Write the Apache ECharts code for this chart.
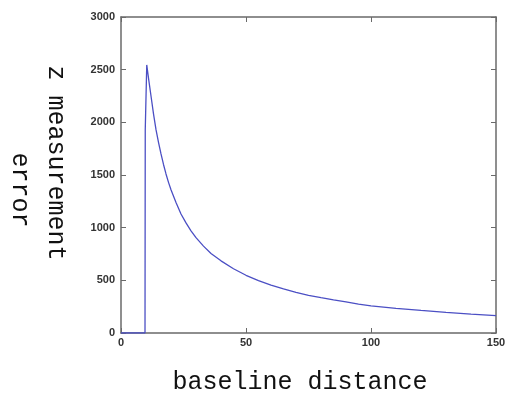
<!DOCTYPE html>
<html><head><meta charset="utf-8">
<script src="https://cdn.jsdelivr.net/npm/echarts@6/dist/echarts.min.js"></script>
<style>html,body{margin:0;padding:0;background:#fff}#c{width:532px;height:398px}</style>
</head><body><div id="c"></div>
<script>
var baseline = [0, 9.6, 9.7, 10.3, 11, 12, 13, 14, 15, 16, 17, 18, 19, 20, 22, 24, 26, 28, 30, 33, 36, 40, 45, 50, 55, 60, 65, 70, 75, 80, 85, 90, 95, 100, 110, 120, 130, 140, 150];
var zError   = [0, 0, 1930, 2545, 2420, 2250, 2080, 1930, 1810, 1700, 1600, 1510, 1430, 1360, 1240, 1130, 1045, 970, 905, 825, 755, 685, 610, 548, 498, 455, 418, 386, 358, 335, 314, 295, 275, 258, 234, 214, 196, 179, 164];
var xTicks = [0, 50, 100, 150];
var yTicks = [0, 500, 1000, 1500, 2000, 2500, 3000];
var xLabel = 'baseline distance';
var yLabel1 = 'z measurement';
var yLabel2 = 'error';

var pts = baseline.map(function(b, i){ return [b, zError[i]]; });
var axisColor = '#6a6a6a';
var labelStyle = {color:'#333', fontSize:11, fontWeight:'bold', fontFamily:'Liberation Sans', formatter:function(v){return String(v);}};
var chart = echarts.init(document.getElementById('c'));
chart.setOption({
  animation:false,
  grid:{left:121, right:36, top:17, bottom:65},
  xAxis:[{
    type:'value', min:xTicks[0], max:xTicks[xTicks.length-1], interval:50,
    axisLine:{onZero:false, lineStyle:{color:axisColor, width:1.5}},
    axisTick:{inside:true, length:5, lineStyle:{color:axisColor}},
    axisLabel:Object.assign({margin:4}, labelStyle),
    splitLine:{show:false}
  },{
    type:'value', position:'top', min:xTicks[0], max:xTicks[xTicks.length-1], interval:50,
    axisLine:{show:true, onZero:false, lineStyle:{color:axisColor, width:1.5}},
    axisTick:{inside:true, length:5, lineStyle:{color:axisColor}},
    axisLabel:{show:false}, splitLine:{show:false}
  }],
  yAxis:[{
    type:'value', min:yTicks[0], max:yTicks[yTicks.length-1], interval:500,
    axisLine:{show:true, onZero:false, lineStyle:{color:axisColor, width:1.5}},
    axisTick:{show:true, inside:true, length:5, lineStyle:{color:axisColor}},
    axisLabel:Object.assign({margin:6}, labelStyle),
    splitLine:{show:false}
  },{
    type:'value', position:'right', min:yTicks[0], max:yTicks[yTicks.length-1], interval:500,
    axisLine:{show:true, onZero:false, lineStyle:{color:axisColor, width:1.5}},
    axisTick:{show:true, inside:true, length:5, lineStyle:{color:axisColor}},
    axisLabel:{show:false}, splitLine:{show:false}
  }],
  series:[{
    type:'line', data:pts, showSymbol:false, smooth:false,
    lineStyle:{color:'#4b4fc4', width:1.3}
  }],
  graphic:[
    {type:'text', x:300, y:382, style:{text:xLabel, font:'25px "Liberation Mono"', fill:'#111', textAlign:'center', textVerticalAlign:'middle'}},
    {type:'text', x:56, y:163, rotation:-Math.PI/2, style:{text:yLabel1, font:'25px "Liberation Mono"', fill:'#111', textAlign:'center', textVerticalAlign:'middle'}},
    {type:'text', x:20, y:190, rotation:-Math.PI/2, style:{text:yLabel2, font:'25px "Liberation Mono"', fill:'#111', textAlign:'center', textVerticalAlign:'middle'}}
  ]
});
</script></body></html>
